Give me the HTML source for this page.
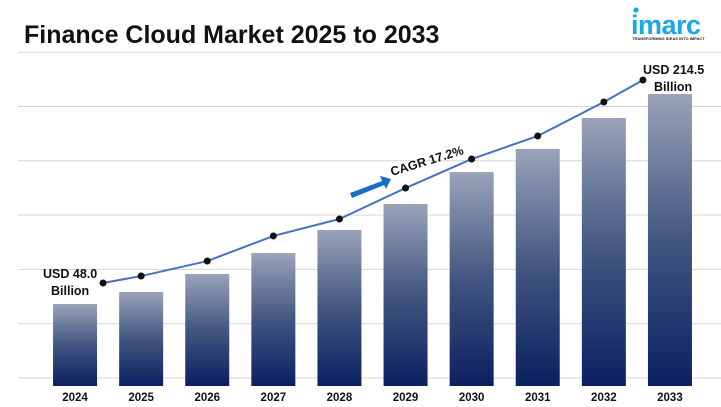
<!DOCTYPE html>
<html><head><meta charset="utf-8"><style>
body{margin:0;background:#fff;}
svg{display:block;font-family:"Liberation Sans",sans-serif;}
</style></head><body>
<svg id="c" width="721" height="407" viewBox="0 0 721 407">
<defs>
<linearGradient id="g" x1="0" y1="0" x2="0" y2="1">
<stop offset="0" stop-color="#9aa3b8"/><stop offset="0.5" stop-color="#415680"/><stop offset="1" stop-color="#0b2060"/>
</linearGradient>
</defs>
<text x="24" y="43" font-size="25" font-weight="bold" fill="#111">Finance Cloud Market 2025 to 2033</text>
<g>
<circle cx="636" cy="10" r="2.6" fill="#1aa7e6"/>
<text x="631" y="34" font-size="27" font-weight="bold" fill="#1aa7e6" letter-spacing="-0.5">imarc</text>
<text x="632" y="40" font-size="4" font-weight="bold" fill="#222">TRANSFORMING IDEAS INTO IMPACT</text>
</g>
<g id="grid"></g>
<g id="bars"></g>
<g id="line"></g>
<g id="labels"></g>
<text x="43" y="278" font-size="12.5" font-weight="bold" fill="#111">USD 48.0</text>
<text x="51" y="295" font-size="12.5" font-weight="bold" fill="#111">Billion</text>
<text x="643" y="74" font-size="12.5" font-weight="bold" fill="#111">USD 214.5</text>
<text x="654" y="91" font-size="12.5" font-weight="bold" fill="#111">Billion</text>
<g>
<polygon points="350,193 382,181 380,176 391,179 386,189 384,185 352,198" fill="#1570c6"/>
</g>
<text x="392" y="176" font-size="12.5" font-weight="bold" fill="#111" transform="rotate(-17 392 176)">CAGR 17.2%</text>
</svg>
<script>
const categories=["2024","2025","2026","2027","2028","2029","2030","2031","2032","2033"];
const values=[48.0,57.5,71.8,88.4,106.7,127.3,152.6,170.9,195.5,214.5];
const lineValues=[48.0,53.7,66.0,86.6,100.5,125.9,149.7,168.6,196.5,214.5];
const gridTicks=[0,1,2,3,4,5,6];
const NS="http://www.w3.org/2000/svg";
const base=386, x0=42, bandW=66.1, barW=44;
function xc(i){return x0+bandW*(i+0.5);}
function barH(v){return 21.5+1.261*v;}
function lineY(v){return 283-(v-48)*1.219;}
function mk(t,a,p){const e=document.createElementNS(NS,t);for(const k in a)e.setAttribute(k,a[k]);document.getElementById(p).appendChild(e);return e;}
gridTicks.forEach(t=>{
 const y=378-t*54.3;
 const l=mk("line",{x1:18,x2:721,y1:y,y2:y,stroke:"#d6d6d6","stroke-width":1},"grid");
 
 
});
values.forEach((v,i)=>{
 const h=barH(v);
 const r=mk("rect",{x:xc(i)-barW/2,y:base-h,width:barW,height:h,fill:"url(#g)"},"bars");
 
 
 const t=mk("text",{x:xc(i),y:401,"text-anchor":"middle","font-size":"11.5","font-weight":"bold",fill:"#111"},"labels");
 t.textContent=categories[i];
 
 
});
const pts=lineValues.map((v,i)=>{let x=xc(i);if(i===0)x+=28;if(i===lineValues.length-1)x-=27;return [x,lineY(v)];});
const pl=mk("polyline",{points:pts.map(p=>p.join(",")).join(" "),fill:"none",stroke:"#4472c4","stroke-width":2},"line");


pts.forEach((p,i)=>{
 const c=mk("circle",{cx:p[0],cy:p[1],r:3.5,fill:"#111"},"line");
 
 
});
</script>
</body></html>
